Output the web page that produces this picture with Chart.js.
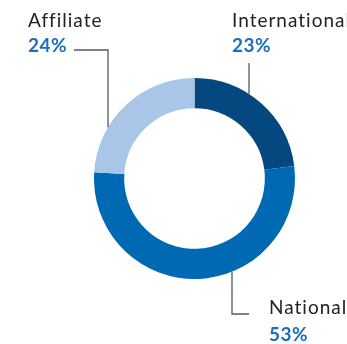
<!DOCTYPE html>
<html>
<head>
<meta charset="utf-8">
<script src="https://cdn.jsdelivr.net/npm/chart.js@4/dist/chart.umd.min.js"></script>
<style>
  html, body { margin: 0; padding: 0; background: #fff; }
  #wrap { width: 347px; height: 344px; position: relative; }
</style>
</head>
<body>
<div id="wrap"><canvas id="myChart"></canvas></div>
<script>
// funding share by source, clockwise from 12 o'clock
const categories = ['International', 'National', 'Affiliate'];
const shares = [23, 53, 24];
const pctLabels = ['23%', '53%', '24%'];
const sliceColors = ['#04487f', '#0069b4', '#a9c5e8'];

// where each callout sits and how its leader line runs
// side: 'top' means the vertical line drops onto the upper edge of the ring
const callouts = [
	{ textX: 232, nameY: 27, pctY: 52, lineX: 249, side: 'top', startY: 63 },
	{ textX: 269, nameY: 314, pctY: 341, lineX: 232, side: 'bottom', endY: 314, endX: 249 },
	{ textX: 28, nameY: 27, pctY: 52, lineX: 108, side: 'top', startY: 50, fromX: 74 }
];

const calloutPlugin = {
	id: 'callouts',
	afterDraw(chart) {
		const ctx = chart.ctx;
		const arcs = chart.getDatasetMeta(0).data;
		ctx.save();
		for (let i = 0; i < callouts.length; i++) {
			const c = callouts[i];
			const arc = arcs[i];
			// point where the vertical leader meets the outer edge of the ring
			const dx = c.lineX - arc.x;
			const h = Math.sqrt(Math.max(arc.outerRadius * arc.outerRadius - dx * dx, 0));
			const edgeY = c.side === 'top' ? arc.y - h : arc.y + h;

			ctx.strokeStyle = '#5a5a5a';
			ctx.lineWidth = 1.3;
			ctx.beginPath();
			if (c.side === 'top') {
				if (c.fromX !== undefined) {
					ctx.moveTo(c.fromX, c.startY);
					ctx.lineTo(c.lineX, c.startY);
				} else {
					ctx.moveTo(c.lineX, c.startY);
				}
				ctx.lineTo(c.lineX, edgeY);
			} else {
				ctx.moveTo(c.lineX, edgeY);
				ctx.lineTo(c.lineX, c.endY);
				ctx.lineTo(c.endX, c.endY);
			}
			ctx.stroke();

			ctx.textAlign = 'left';
			ctx.textBaseline = 'alphabetic';
			ctx.fillStyle = '#222222';
			ctx.font = '400 19px Lato';
			ctx.letterSpacing = '1px';
			ctx.fillText(categories[i], c.textX, c.nameY);
			ctx.fillStyle = '#1a70bd';
			ctx.font = '700 19px Lato';
			ctx.letterSpacing = '0.5px';
			ctx.fillText(pctLabels[i], c.textX, c.pctY);
		}
		ctx.restore();
	}
};

const myChart = new Chart(document.getElementById('myChart'), {
	type: 'doughnut',
	data: {
		labels: categories,
		datasets: [{
			data: shares,
			backgroundColor: sliceColors,
			borderWidth: 0
		}]
	},
	options: {
		responsive: true,
		maintainAspectRatio: false,
		animation: false,
		cutout: '70%',
		layout: {
			padding: { left: 92, right: 50, top: 78, bottom: 65 }
		},
		plugins: {
			legend: { display: false },
			tooltip: { enabled: false }
		}
	},
	plugins: [calloutPlugin]
});
</script>
</body>
</html>
